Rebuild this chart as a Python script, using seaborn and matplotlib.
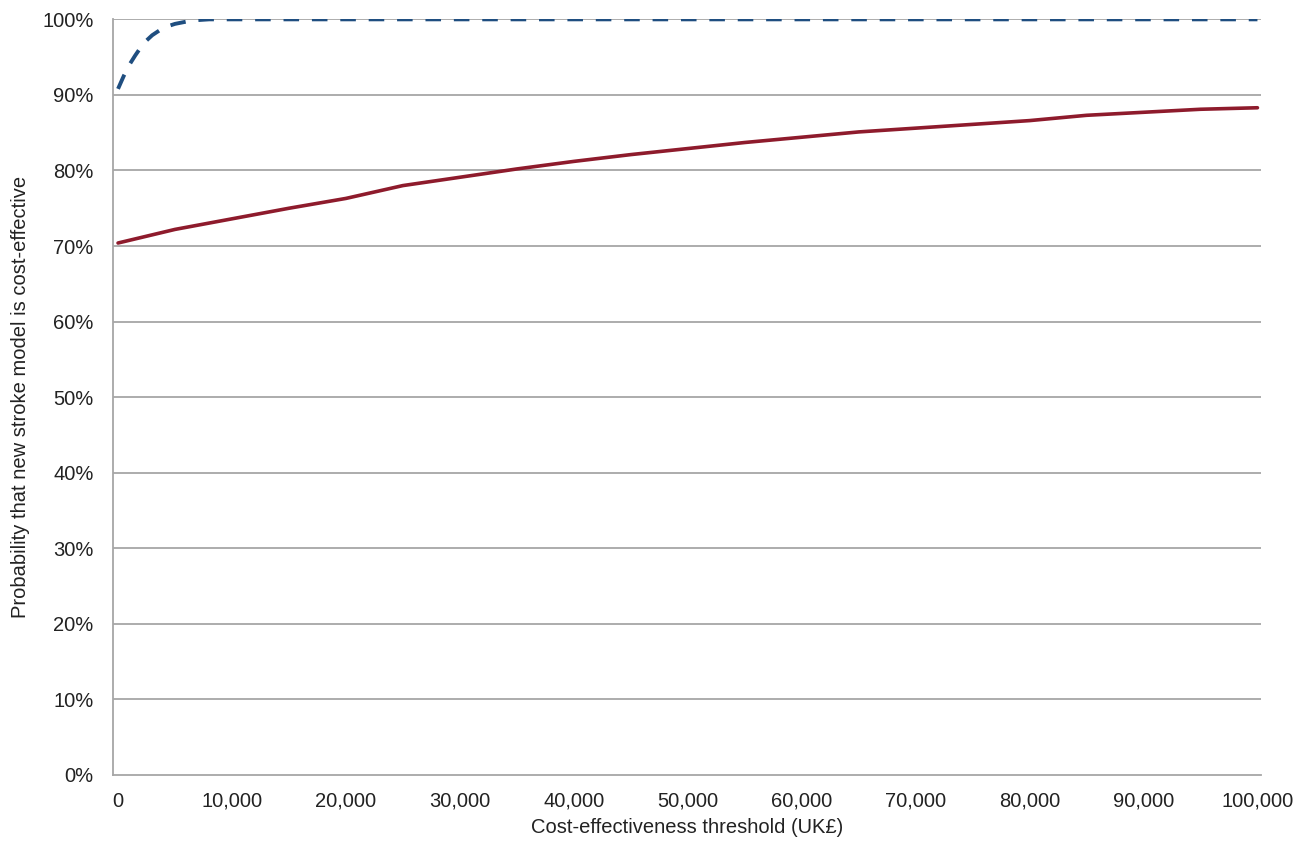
import matplotlib
matplotlib.use("Agg")
import matplotlib.pyplot as plt
import seaborn as sns
import pandas as pd

# Threshold values (UK pounds) and probabilities
red_x = [0, 5000, 10000, 15000, 20000, 25000, 30000, 35000, 40000, 45000, 50000,
         55000, 60000, 65000, 70000, 75000, 80000, 85000, 90000, 95000, 100000]
red_y = [70.4, 72.2, 73.6, 75.0, 76.3, 78.0, 79.1, 80.2, 81.2, 82.1, 82.9,
         83.7, 84.4, 85.1, 85.6, 86.1, 86.6, 87.3, 87.7, 88.1, 88.3]

blue_x = [0, 500, 1000, 1500, 2000, 2500, 3000, 4000, 5000, 6000, 7000, 8000,
          20000, 40000, 60000, 80000, 100000]
blue_y = [90.8, 92.5, 94.0, 95.2, 96.3, 97.2, 97.9, 98.9, 99.4, 99.7, 99.9, 100.0,
          100.0, 100.0, 100.0, 100.0, 100.0]

x_ticks = list(range(0, 100001, 10000))
y_ticks = list(range(0, 101, 10))

df_red = pd.DataFrame({'threshold': red_x, 'prob': red_y})
df_blue = pd.DataFrame({'threshold': blue_x, 'prob': blue_y})

sns.set_style("white")
plt.rcParams['font.family'] = ['Liberation Sans', 'DejaVu Sans']

fig = plt.figure(figsize=(13.08, 8.41), dpi=100)
ax = fig.add_axes([0.0864, 0.0785, 0.878, 0.8985])

# Grid first so lines draw on top
for v in y_ticks[1:]:
    ax.axhline(v, color='#a6a6a6', lw=1.3, zorder=1)

sns.lineplot(data=df_red, x='threshold', y='prob', color='#8e1b2c', lw=2.6, ax=ax, zorder=3)
sns.lineplot(data=df_blue, x='threshold', y='prob', color='#1f4e80', lw=2.8,
             linestyle=(0, (4.0, 3.3)), ax=ax, zorder=3)

ax.set_xlim(-440, 100350)
ax.set_ylim(0, 100)
ax.set_xticks(x_ticks)
ax.set_xticklabels([f"{t:,}" for t in x_ticks])
ax.set_yticks(y_ticks)
ax.set_yticklabels([f"{t}%" for t in y_ticks])

for s in ['top', 'right']:
    ax.spines[s].set_visible(False)
for s in ['left', 'bottom']:
    ax.spines[s].set_color('#a6a6a6')
    ax.spines[s].set_linewidth(1.3)

ax.tick_params(axis='both', labelsize=14.5, colors='#222222', length=5,
               width=1, direction='out', color='#a6a6a6')
ax.tick_params(axis='y', pad=9)
ax.tick_params(axis='x', pad=7)
ax.set_xlabel('Cost-effectiveness threshold (UK£)', fontsize=14.5, color='#222222', labelpad=5)
ax.set_ylabel('Probability that new stroke model is cost-effective', fontsize=14.5,
              color='#222222', labelpad=9)

plt.savefig("out.png", dpi=100)
